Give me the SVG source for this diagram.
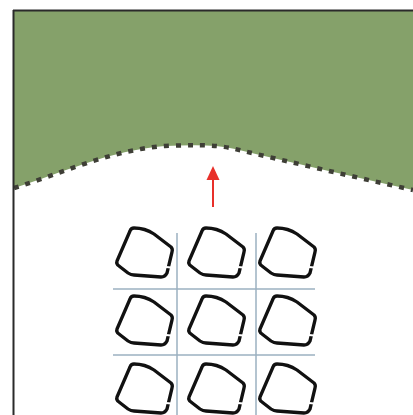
<svg xmlns="http://www.w3.org/2000/svg" width="413" height="415" viewBox="0 0 413 415">
  <defs>
    <style>
      .grid{stroke:#9bb0c0;stroke-width:1.5;fill:none}
      .cell{fill:none;stroke:#111;stroke-width:3.3;stroke-linejoin:round;stroke-linecap:round}
      .gap{stroke:#fff;stroke-width:1.8}
    </style>
    <g id="shape">
      <path class="cell" d="M2,0 Q13,0 22,6 L39,19 Q41,21 40,24 L35,45 Q33,49 29,49 L2,47 Q-1,47 -4,45 L-13,38 Q-16,36 -15,33 L-2,3 Q-1,0 2,0 Z"/>
      <line class="gap" x1="34" y1="39" x2="39" y2="39.5"/>
    </g>
  </defs>
  <rect width="413" height="415" fill="#fff"/>
  <g id="ground">
    <path d="M14,11 L413,11 L413,190 C350,176 290,162 235,149 C215,144 190,145 165,146 C110,150 60,174 14,188 Z" fill="#85a16a"/>
    <path d="M14,188 C60,174 110,150 165,146 C190,145 215,144 235,149 C290,162 350,176 413,190" fill="none" stroke="#3e3e36" stroke-width="4.5" stroke-dasharray="5 7"/>
  </g>
  <g id="frame" stroke="#2a2a2a" stroke-width="2" fill="none">
    <line x1="13.5" y1="10" x2="13.5" y2="415"/>
    <line x1="13" y1="10.5" x2="413" y2="10.5"/>
  </g>
  <g id="connectors">
    <line x1="213" y1="207" x2="213" y2="178" stroke="#e8302a" stroke-width="2"/>
    <polygon points="213,166 206.5,180 219.5,180" fill="#e8302a"/>
  </g>
  <g id="grid">
    <line class="grid" x1="177" y1="233" x2="177" y2="415"/>
    <line class="grid" x1="256" y1="233" x2="256" y2="415"/>
    <line class="grid" x1="113" y1="289" x2="315" y2="289"/>
    <line class="grid" x1="113" y1="355" x2="315" y2="355"/>
  </g>
  <g id="cell-1-1"><use href="#shape" x="132" y="228"/></g>
  <g id="cell-1-2"><use href="#shape" x="204" y="228"/></g>
  <g id="cell-1-3"><use href="#shape" x="275" y="228"/></g>
  <g id="cell-2-1"><use href="#shape" x="132" y="296"/></g>
  <g id="cell-2-2"><use href="#shape" x="204" y="296"/></g>
  <g id="cell-2-3"><use href="#shape" x="275" y="296"/></g>
  <g id="cell-3-1"><use href="#shape" x="132" y="364"/></g>
  <g id="cell-3-2"><use href="#shape" x="204" y="364"/></g>
  <g id="cell-3-3"><use href="#shape" x="275" y="364"/></g>
</svg>
